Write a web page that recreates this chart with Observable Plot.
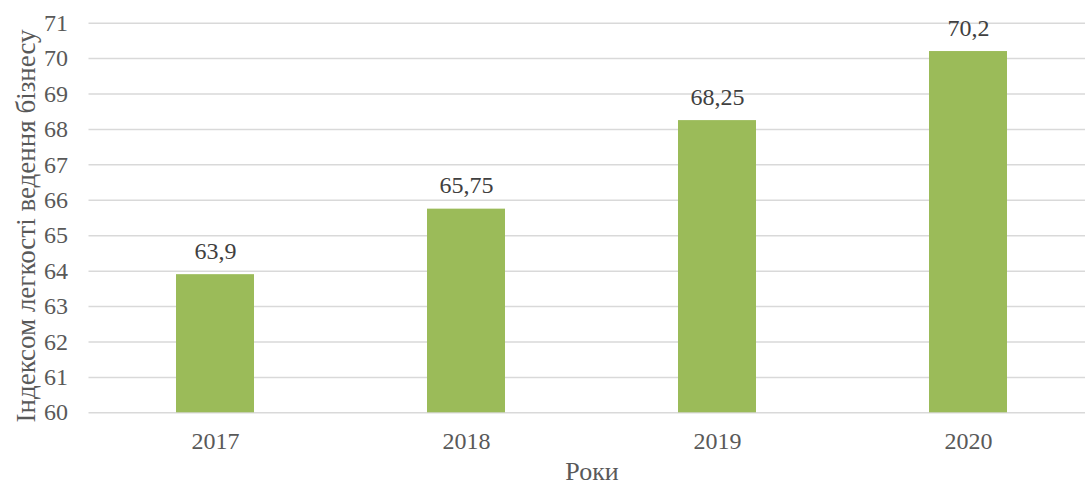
<!DOCTYPE html>
<html>
<head>
<meta charset="utf-8">
<script src="https://cdn.jsdelivr.net/npm/d3@7"></script>
<script src="https://cdn.jsdelivr.net/npm/@observablehq/plot@0.6"></script>
<style>
  html, body { margin: 0; padding: 0; background: #fff; }
  svg text { font-family: 'Liberation Serif', 'Times New Roman', serif !important; font-variant: normal !important; }
</style>
</head>
<body>
<div id="chart"></div>
<script>
const years = ["2017", "2018", "2019", "2020"];
const values = [63.9, 65.75, 68.25, 70.2];
const yTicks = [60, 61, 62, 63, 64, 65, 66, 67, 68, 69, 70, 71];
const xTitle = "Роки";
const yTitle = "Індексом легкості ведення бізнесу";

const data = years.map((y, i) => ({year: y, value: values[i]}));
const fmt = v => String(v).replace(".", ",");
const font = "Liberation Serif";

const chart = Plot.plot({
  width: 1085,
  height: 487,
  marginLeft: 88.5,
  marginRight: -9.5,
  marginTop: 22.7,
  marginBottom: 74.7,
  style: {fontFamily: font, background: "#fff"},
  x: {domain: years, paddingInner: 0.69, paddingOuter: 0.345},
  y: {domain: [60, 71]},
  marks: [
    Plot.ruleY(yTicks, {stroke: "#d9d9d9", strokeWidth: 1.5}),
    Plot.barY(data, {x: "year", y1: 60, y2: "value", fill: "#9bbb59"}),
    Plot.text(data, {x: "year", y: "value", text: d => fmt(d.value), dy: -23.7, fontSize: 24, fill: "#404040", fontFamily: font}),
    Plot.axisY({ticks: yTicks, tickSize: 0, tickPadding: 21, fontSize: 24, color: "#595959", label: null, fontFamily: font}),
    Plot.axisX({tickSize: 0, tickPadding: 19, fontSize: 24, color: "#595959", label: null, fontFamily: font}),
    Plot.text([xTitle], {frameAnchor: "bottom", dy: 67, fontSize: 26, fill: "#595959", fontFamily: font})
  ]
});
const svg = d3.select(chart);
svg.append("text")
  .attr("transform", "translate(26,226) rotate(-90)")
  .attr("text-anchor", "middle")
  .attr("dominant-baseline", "central")
  .attr("font-family", font)
  .attr("font-size", 27)
  .attr("fill", "#595959")
  .text(yTitle);
document.getElementById("chart").appendChild(chart);
</script>
</body>
</html>
